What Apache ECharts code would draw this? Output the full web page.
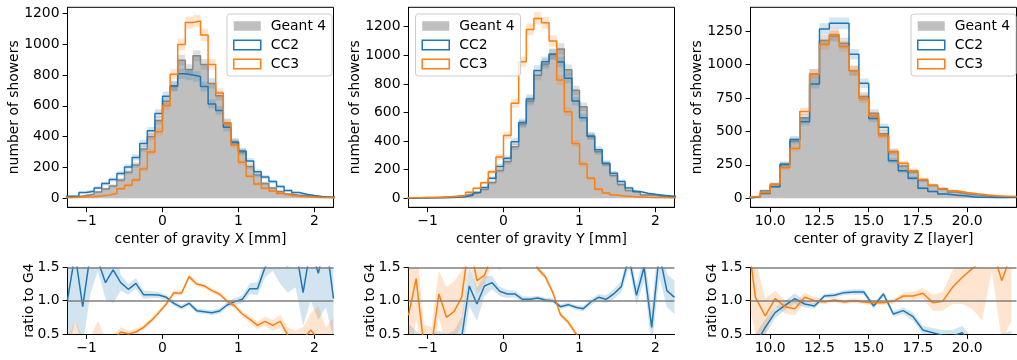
<!DOCTYPE html>
<html><head><meta charset="utf-8">
<script src="https://cdn.jsdelivr.net/npm/echarts@6/dist/echarts.min.js"></script>
<style>html,body{margin:0;padding:0;background:#fff}#c{width:1017px;height:360px}</style>
</head><body><div id="c"></div>
<script>
// ---------------- data ----------------
const xyBinStart = -1.3, xyBinWidth = 0.1;   // 36 bins
const zBinStart = 8.5, zBinWidth = 0.5;      // 28 bins

const xG4  = [8,10,18,25,40,60,80,118,168,215,320,400,505,630,725,895,835,925,868,745,665,490,368,300,205,150,95,66,44,28,19,17,10,8,5,5];
const xCC2 = [12,15,37,45,67,95,122,160,203,265,355,437,550,662,730,808,800,790,725,612,570,460,362,307,242,172,138,108,76,50,37,26,17,11,8,7];
const xCC3 = [4,6,8,10,14,20,30,62,84,118,190,300,432,600,805,998,1140,1150,1060,868,683,485,346,233,142,93,65,47,30,18,13,9,7,5,4,3];
const xG4Err  = [4,4,5,6,8,9,11,13,15,18,21,24,27,30,32,36,35,36,35,33,31,27,23,21,17,15,12,10,8,6,5,5,4,3,3,3];
const xCC2Err = [4,5,7,8,10,12,13,15,17,20,23,25,28,31,32,34,34,34,32,30,29,26,23,21,19,16,14,12,10,8,7,6,5,4,3,3];
const xCC3Err = [2,3,3,4,4,5,7,9,11,13,17,21,25,29,34,38,40,41,39,35,31,26,22,18,14,12,10,8,7,5,4,4,3,3,2,2];
const xRatioCC2    = [1.01,1.7,0.91,1.7,1.6,1.27,1.46,1.27,1.17,1.26,1.09,1.09,1.085,1.05,0.96,0.90,0.96,0.85,0.835,0.82,0.845,0.935,0.985,1.02,1.18,1.18,1.5,1.65,1.55,1.52,1.8,1.12,1.8,1.41,1.9,1.03];
const xRatioCC2Err = [0.8,1.0,0.6,0.6,0.15,0.25,0.5,0.12,0.08,0.08,0.06,0.05,0.045,0.04,0.04,0.035,0.035,0.035,0.035,0.035,0.04,0.04,0.05,0.06,0.08,0.1,0.15,0.2,0.3,0.4,0.6,0.5,0.8,0.7,1.0,0.6];
const xRatioCC3    = [0.35,0.3,0.25,0.3,0.35,0.35,0.4,0.53,0.50,0.53,0.60,0.70,0.82,0.95,1.12,1.11,1.36,1.25,1.22,1.15,1.10,0.99,0.92,0.80,0.72,0.63,0.69,0.63,0.69,0.48,0.40,0.42,0.56,0.42,0.3,0.45];
const xRatioCC3Err = [0.1,0.4,0.2,0.15,0.35,0.1,0.08,0.07,0.05,0.05,0.04,0.04,0.04,0.035,0.035,0.035,0.04,0.035,0.035,0.035,0.035,0.035,0.04,0.04,0.05,0.06,0.07,0.08,0.1,0.12,0.15,0.18,0.25,0.5,0.3,0.3];

const yG4  = [2,3,5,5,7,10,14,18,30,42,62,110,195,255,360,520,680,860,940,1005,1045,900,755,640,440,325,240,160,97,55,43,23,25,13,14,11];
const yCC2 = [1,2,2,3,3,5,7,10,22,40,75,140,222,280,396,531,695,894,955,1010,953,840,680,563,432,340,245,175,117,72,47,35,28,22,16,12];
const yCC3 = [3,4,5,5,8,10,12,19,42,70,108,186,288,440,664,955,1181,1258,1228,1100,827,606,384,240,140,63,37,23,16,12,9,7,6,5,4,3];
const yG4Err  = [2,2,3,3,3,4,4,5,7,8,9,13,17,19,23,27,31,35,37,38,39,36,33,30,25,22,19,15,12,9,8,6,6,4,4,4];
const yCC2Err = [1,2,2,2,2,3,3,4,6,8,10,14,18,20,24,28,32,36,37,38,37,35,31,28,25,22,19,16,13,10,8,7,6,6,5,4];
const yCC3Err = [2,2,3,3,3,4,4,5,8,10,12,16,20,25,31,37,41,43,42,40,35,30,23,19,14,10,7,6,5,4,4,3,3,3,2,2];
const yRatioCC2    = [0.2,0.3,0.25,0.3,0.35,0.3,0.35,0.45,1.22,0.95,1.22,1.27,1.14,1.10,1.10,1.02,1.02,1.04,1.01,1.0,0.91,0.94,0.90,0.88,0.98,1.05,1.02,1.1,1.21,1.65,1.08,1.5,0.6,1.7,1.15,1.05];
const yRatioCC2Err = [0.45,0.25,0.2,0.2,0.2,0.2,0.2,0.3,0.3,0.25,0.15,0.1,0.07,0.06,0.05,0.045,0.04,0.035,0.035,0.035,0.035,0.035,0.035,0.04,0.045,0.05,0.06,0.07,0.09,0.15,0.15,0.2,0.3,0.35,0.25,0.25];
const yRatioCC3    = [0.78,1.33,0.35,0.3,1.1,0.75,0.84,1.05,1.9,1.3,1.38,1.7,1.55,1.72,1.85,1.84,1.74,1.48,1.36,1.12,0.79,0.68,0.51,0.38,0.32,0.2,0.15,0.13,0.14,0.2,0.2,0.28,0.24,0.3,0.27,0.25];
const yRatioCC3Err = [0.8,0.6,0.3,0.3,0.35,0.45,0.45,0.4,0.3,0.2,0.15,0.12,0.1,0.08,0.06,0.05,0.05,0.04,0.04,0.04,0.04,0.04,0.04,0.04,0.04,0.04,0.04,0.05,0.05,0.06,0.07,0.08,0.09,0.1,0.1,0.1];

const zG4  = [5,15,56,104,255,427,602,929,1180,1213,1160,953,761,635,482,350,241,196,134,96,67,47,33,25,18,13,10,9];
const zCC2 = [1,10,35,85,252,440,572,855,1265,1308,1308,1077,860,597,530,280,205,149,75,50,32,22,17,8,7,5,5,5];
const zCC3 = [8,12,40,105,228,372,648,930,1152,1225,1135,955,745,615,468,345,262,205,140,95,72,55,42,33,25,18,15,12];
const zG4Err  = [3,5,9,12,19,25,29,37,41,42,41,37,33,30,26,22,19,17,14,12,10,8,7,6,5,4,4,4];
const zCC2Err = [1,4,7,11,19,25,29,35,43,44,44,39,35,29,28,20,17,15,10,8,7,6,5,3,3,3,3,3];
const zCC3Err = [3,4,8,12,18,23,30,37,41,42,40,37,33,30,26,22,19,17,14,12,10,9,8,7,6,5,5,4];
const zRatioCC2    = [0.1,0.35,0.6,0.82,0.93,1.03,0.95,0.92,1.07,1.08,1.12,1.13,1.13,0.92,1.1,0.8,0.85,0.76,0.56,0.52,0.48,0.47,0.52,0.3,0.25,0.3,0.35,0.4];
const zRatioCC2Err = [0.1,0.15,0.12,0.08,0.07,0.08,0.05,0.04,0.035,0.035,0.035,0.04,0.04,0.04,0.04,0.04,0.05,0.06,0.06,0.07,0.08,0.09,0.1,0.15,0.15,0.15,0.15,0.15];
const zRatioCC3    = [2.2,1.05,0.77,1.03,0.91,0.88,1.05,1.0,0.98,1.01,0.98,1.0,0.98,0.97,0.97,0.99,1.07,1.07,1.11,0.97,0.99,1.2,1.35,1.48,1.6,1.8,1.3,1.7];
const zRatioCC3Err = [1.0,0.55,0.27,0.12,0.1,0.1,0.07,0.05,0.035,0.035,0.035,0.035,0.035,0.035,0.035,0.035,0.05,0.06,0.08,0.12,0.14,0.25,0.4,0.6,0.9,0.35,0.9,1.0];

const xyTicks = [-1, 0, 1, 2];
const zTicks = [10, 12.5, 15, 17.5, 20];
const countTicksXY = [0, 200, 400, 600, 800, 1000, 1200];
const countTicksZ = [0, 250, 500, 750, 1000, 1250];
const ratioTicks = [0.5, 1.0, 1.5];
const legendNames = ['Geant 4', 'CC2', 'CC3'];
const xTitles = ['center of gravity X [mm]', 'center of gravity Y [mm]', 'center of gravity Z [layer]'];

// ---------------- helpers ----------------
const FF = 'DejaVu Sans';
const FS = 13.9;
const C_BLUE = '#1f77b4', C_ORANGE = '#ff7f0e', C_GRAY = '#bfbfbf';

function edges(start, w, n) { const e = []; for (let i = 0; i <= n; i++) e.push(+(start + w * i).toFixed(4)); return e; }
function centers(start, w, n) { const c = []; for (let i = 0; i < n; i++) c.push(+(start + w * (i + 0.5)).toFixed(4)); return c; }
function stepData(e, v) { const d = v.map((val, i) => [e[i], val]); d.push([e[v.length], v[v.length - 1]]); return d; }
function fmtMinus(v) { return (v < 0 ? '\u2212' : '') + Math.abs(v); }

function polySeries(gi, poly, color, z) {
  return {
    type: 'custom', xAxisIndex: gi, yAxisIndex: gi, clip: true, silent: true, z: z,
    data: [poly[0]],
    renderItem: function (params, api) {
      return { type: 'polygon', shape: { points: poly.map(p => api.coord(p)) }, style: { fill: color } };
    }
  };
}
function stepBand(gi, e, v, err, color, z) {
  const up = [], down = [];
  for (let i = 0; i < v.length; i++) { up.push([e[i], v[i] + err[i]], [e[i + 1], v[i] + err[i]]); }
  for (let i = v.length - 1; i >= 0; i--) { down.push([e[i + 1], v[i] - err[i]], [e[i], v[i] - err[i]]); }
  return polySeries(gi, up.concat(down), color, z);
}
function lineBand(gi, c, v, err, color, z) {
  const up = [], down = [];
  for (let i = 0; i < v.length; i++) up.push([c[i], v[i] + err[i]]);
  for (let i = v.length - 1; i >= 0; i--) down.push([c[i], v[i] - err[i]]);
  return polySeries(gi, up.concat(down), color, z);
}

const panels = [
  { left: 67.5, start: xyBinStart, w: xyBinWidth, xmin: -1.25, xmax: 2.25, ymin: -59, ymax: 1239,
    xTicks: xyTicks, yTicks: countTicksXY, xfmt: fmtMinus,
    g4: xG4, cc2: xCC2, cc3: xCC3, g4e: xG4Err, cc2e: xCC2Err, cc3e: xCC3Err,
    r2: xRatioCC2, r2e: xRatioCC2Err, r3: xRatioCC3, r3e: xRatioCC3Err, legendLeft: 227, yGap: 46, rGap: 30.5 },
  { left: 408.5, start: xyBinStart, w: xyBinWidth, xmin: -1.25, xmax: 2.25, ymin: -63, ymax: 1336,
    xTicks: xyTicks, yTicks: countTicksXY, xfmt: fmtMinus,
    g4: yG4, cc2: yCC2, cc3: yCC3, g4e: yG4Err, cc2e: yCC2Err, cc3e: yCC3Err,
    r2: yRatioCC2, r2e: yRatioCC2Err, r3: yRatioCC3, r3e: yRatioCC3Err, legendLeft: 415.5, yGap: 46, rGap: 30.5 },
  { left: 750.5, start: zBinStart, w: zBinWidth, xmin: 9, xmax: 22.5, ymin: -68, ymax: 1428,
    xTicks: zTicks, yTicks: countTicksZ, xfmt: v => v.toFixed(1),
    g4: zG4, cc2: zCC2, cc3: zCC3, g4e: zG4Err, cc2e: zCC2Err, cc3e: zCC3Err,
    r2: zRatioCC2, r2e: zRatioCC2Err, r3: zRatioCC3, r3e: zRatioCC3Err, legendLeft: 911, yGap: 46, rGap: 31 }
];

const txt = { color: '#000', fontSize: FS, fontFamily: FF };
const grids = [], xAxes = [], yAxes = [], series = [], legends = [];

panels.forEach((p, i) => {
  grids.push({ left: p.left, top: 7.3, width: 266, height: 200, show: true, borderColor: '#000', borderWidth: 1,
    backgroundColor: 'rgba(0,0,0,0)', containLabel: false, outerBoundsMode: 'none' });
});
panels.forEach((p, i) => {
  grids.push({ left: p.left, top: 267.3, width: 266, height: 66.7, show: false, containLabel: false, outerBoundsMode: 'none' });
});

function xAxisCfg(gi, p, name) {
  return {
    type: 'value', gridIndex: gi, min: p.xmin, max: p.xmax,
    axisLine: { show: true, onZero: false, lineStyle: { color: '#000', width: 1 } },
    axisTick: { show: true, inside: false, length: 4.9, customValues: p.xTicks, lineStyle: { color: '#000', width: 1 } },
    axisLabel: Object.assign({ show: true, margin: 7, customValues: p.xTicks, formatter: p.xfmt }, txt),
    splitLine: { show: false },
    name: name, nameLocation: 'middle', nameGap: 25.5, nameMoveOverlap: false, nameTextStyle: txt
  };
}
function yAxisCfg(gi, p, min, max, ticks, fmt, name, gap) {
  return {
    type: 'value', gridIndex: gi, min: min, max: max,
    axisLine: { show: true, onZero: false, lineStyle: { color: '#000', width: 1 } },
    axisTick: { show: true, inside: false, length: 4.9, customValues: ticks, lineStyle: { color: '#000', width: 1 } },
    axisLabel: Object.assign({ show: true, margin: 8, customValues: ticks, formatter: fmt }, txt),
    splitLine: { show: false },
    name: name, nameLocation: 'middle', nameGap: gap, nameRotate: 90, nameMoveOverlap: false,
    nameTextStyle: Object.assign({ lineHeight: 15 }, txt)
  };
}

panels.forEach((p, i) => {
  xAxes.push(xAxisCfg(i, p, xTitles[i]));
  yAxes.push(yAxisCfg(i, p, p.ymin, p.ymax, p.yTicks, v => String(v), 'number of showers', p.yGap));
});
panels.forEach((p, i) => {
  xAxes.push(xAxisCfg(i + 3, p, ''));
  yAxes.push(yAxisCfg(i + 3, p, 0.5, 1.5, ratioTicks, v => v.toFixed(1), 'ratio to G4', p.rGap));
});

panels.forEach((p, i) => {
  const n = p.g4.length;
  const e = edges(p.start, p.w, n);
  const c = centers(p.start, p.w, n);
  // main histogram panel
  series.push({ type: 'line', name: legendNames[0], xAxisIndex: i, yAxisIndex: i, step: 'end', symbol: 'none', silent: true,
    data: stepData(e, p.g4), itemStyle: { color: C_GRAY },
    lineStyle: { color: '#8a8a8a', width: 1.5 }, areaStyle: { color: C_GRAY, opacity: 1 }, z: 1 });
  series.push(stepBand(i, e, p.g4, p.g4e, 'rgba(128,128,128,0.25)', 2));
  series.push(stepBand(i, e, p.cc2, p.cc2e, 'rgba(31,119,180,0.2)', 2));
  series.push(stepBand(i, e, p.cc3, p.cc3e, 'rgba(255,127,14,0.2)', 2));
  series.push({ type: 'line', name: legendNames[1], xAxisIndex: i, yAxisIndex: i, step: 'end', symbol: 'none', silent: true,
    data: stepData(e, p.cc2), itemStyle: { color: C_BLUE }, lineStyle: { color: C_BLUE, width: 1.5 }, z: 3 });
  series.push({ type: 'line', name: legendNames[2], xAxisIndex: i, yAxisIndex: i, step: 'end', symbol: 'none', silent: true,
    data: stepData(e, p.cc3), itemStyle: { color: C_ORANGE }, lineStyle: { color: C_ORANGE, width: 1.5 }, z: 3 });

  // ratio panel
  const gi = i + 3;
  const rb = lineBand(gi, c, p.r2, p.r2e, 'rgba(31,119,180,0.2)', 2);
  rb.markLine = { silent: true, symbol: 'none', label: { show: false }, animation: false,
    lineStyle: { color: '#7f7f7f', width: 1.5, type: 'solid' }, data: [{ yAxis: 1.0 }, { yAxis: 1.5 }] };
  series.push(rb);
  series.push(lineBand(gi, c, p.r3, p.r3e, 'rgba(255,127,14,0.2)', 2));
  series.push({ type: 'line', name: 'ratio CC2', xAxisIndex: gi, yAxisIndex: gi, symbol: 'none', silent: true, clip: true,
    data: p.r2.map((v, k) => [c[k], v]), lineStyle: { color: C_BLUE, width: 1.5 }, itemStyle: { color: C_BLUE }, z: 3 });
  series.push({ type: 'line', name: 'ratio CC3', xAxisIndex: gi, yAxisIndex: gi, symbol: 'none', silent: true, clip: true,
    data: p.r3.map((v, k) => [c[k], v]), lineStyle: { color: C_ORANGE, width: 1.5 }, itemStyle: { color: C_ORANGE }, z: 3 });

  legends.push({
    orient: 'vertical', left: p.legendLeft, top: 14, itemWidth: 27, itemHeight: 9.5, itemGap: 5,
    padding: [5, 6, 5, 6], backgroundColor: 'rgba(255,255,255,0.8)', borderColor: '#cccccc', borderWidth: 1, borderRadius: 3,
    selectedMode: false, textStyle: { color: '#000', fontSize: FS, fontFamily: FF, lineHeight: 14, padding: [0, 0, 0, 5] },
    data: [
      { name: legendNames[0], icon: 'rect', itemStyle: { color: C_GRAY, borderWidth: 0 } },
      { name: legendNames[1], icon: 'rect', itemStyle: { color: '#ffffff', borderColor: C_BLUE, borderWidth: 1.5 } },
      { name: legendNames[2], icon: 'rect', itemStyle: { color: '#ffffff', borderColor: C_ORANGE, borderWidth: 1.5 } }
    ]
  });
});

const chart = echarts.init(document.getElementById('c'), null, { renderer: 'canvas', width: 1017, height: 360 });
chart.setOption({
  animation: false,
  backgroundColor: '#ffffff',
  textStyle: { fontFamily: FF },
  grid: grids, xAxis: xAxes, yAxis: yAxes, legend: legends, series: series
});
</script></body></html>
